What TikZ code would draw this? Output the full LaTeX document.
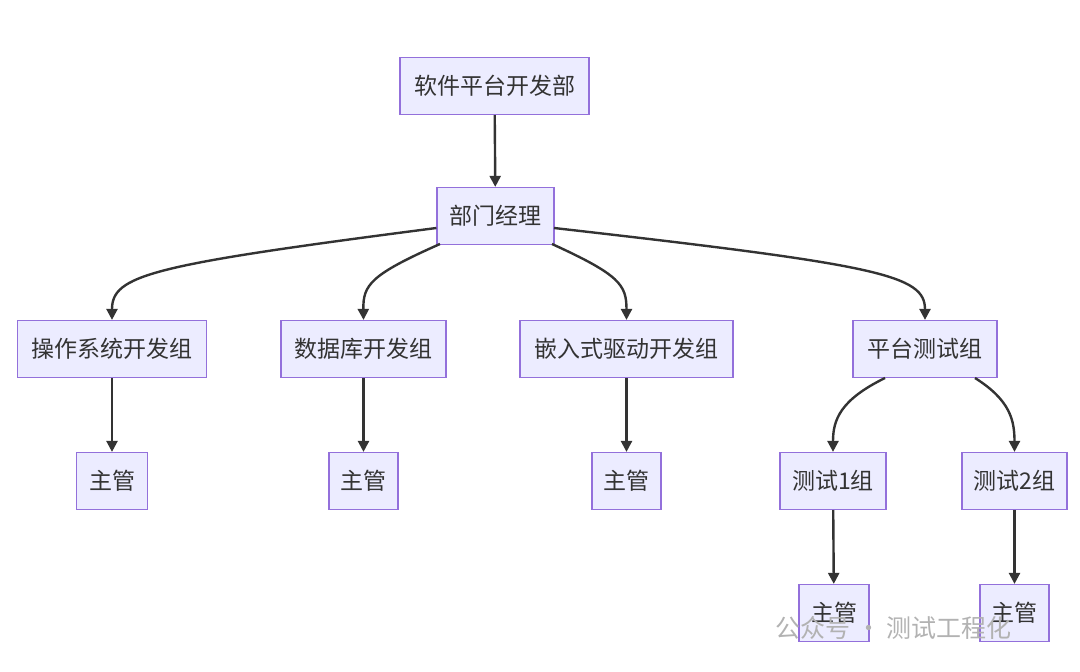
\documentclass[tikz,border=0pt]{standalone}
\usepackage{fontspec}
\setmainfont{Noto Sans CJK SC}
\usetikzlibrary{arrows.meta}
\definecolor{bfill}{HTML}{ECECFF}
\definecolor{bdraw}{HTML}{9370DB}
\definecolor{ln}{HTML}{333333}
\begin{document}
\begin{tikzpicture}[x=1pt,y=-1pt,
 box/.style={draw=bdraw,fill=bfill,line width=1.2pt,minimum height=57pt,inner sep=0pt,font=\fontsize{23}{23}\selectfont,text=ln},
 arr/.style={draw=ln,line width=2.4pt,-{Triangle[length=11pt,width=11pt]}}]
\useasboundingbox (0,0) rectangle (1080,672);
\node[box,minimum width=189pt] (r) at (494.5,86) {软件平台开发部};
\node[box,minimum width=117pt] (m) at (495.5,216) {部门经理};
\node[box,minimum width=189pt] (g1) at (112,349) {操作系统开发组};
\node[box,minimum width=165pt] (g2) at (363.5,349) {数据库开发组};
\node[box,minimum width=213pt] (g3) at (626.5,349) {嵌入式驱动开发组};
\node[box,minimum width=144pt] (g4) at (925,349) {平台测试组};
\node[box,minimum width=71pt] (s1) at (112,481) {主管};
\node[box,minimum width=69pt] (s2) at (363.5,481) {主管};
\node[box,minimum width=69pt] (s3) at (626.5,481) {主管};
\node[box,minimum width=106pt] (t1) at (833,481) {测试1组};
\node[box,minimum width=105pt] (t2) at (1014.5,481) {测试2组};
\node[box,minimum width=70pt] (s4) at (834,613) {主管};
\node[box,minimum width=69pt] (s5) at (1014.5,613) {主管};
\draw[arr] (r) -- (m);
\draw[arr] (m.west|-0,228) .. controls (150,265) and (112,275) .. (g1.north);
\draw[arr] (440,244) .. controls (370,275) and (363,285) .. (g2.north);
\draw[arr] (552,244) .. controls (620,275) and (626.5,285) .. (g3.north);
\draw[arr] (554,228) .. controls (880,265) and (925,275) .. (g4.north);
\draw[arr] (g1) -- (s1);
\draw[arr] (g2) -- (s2);
\draw[arr] (g3) -- (s3);
\draw[arr] (885,378) .. controls (840,400) and (833,420) .. (t1.north);
\draw[arr] (975,378) .. controls (1010,400) and (1014.5,420) .. (t2.north);
\draw[arr] (t1) -- (s4);
\draw[arr] (t2) -- (s5);
\node[text=gray!60,font=\fontsize{25}{25}\selectfont,anchor=west] (w) at (772,628) {公众号 · 测试工程化};
\end{tikzpicture}
\end{document}
